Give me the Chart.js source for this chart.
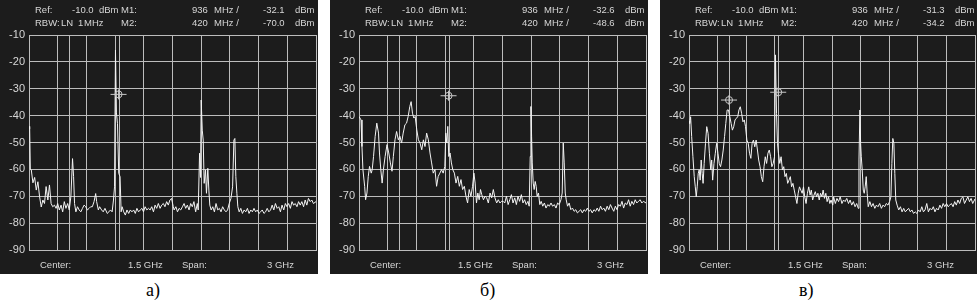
<!DOCTYPE html>
<html>
<head>
<meta charset="utf-8">
<script src="https://cdn.jsdelivr.net/npm/chart.js@4/dist/chart.umd.min.js"></script>
<style>
  body { margin: 0; background: #fff; width: 977px; height: 300px; position: relative; overflow: hidden; }
  .panel { position: absolute; top: 0; }
  .panel canvas { background: #1c1c1c; display: block; }
  .cap { position: absolute; top: 280px; font: 18px "Liberation Serif", serif; color: #000; }
</style>
</head>
<body>
<div class="panel" style="left:0px"><canvas id="c0" width="318" height="274"></canvas></div>
<div class="panel" style="left:330px"><canvas id="c1" width="318" height="274"></canvas></div>
<div class="panel" style="left:660px"><canvas id="c2" width="317" height="274"></canvas></div>
<div class="cap" id="l0" style="left:146px"></div>
<div class="cap" id="l1" style="left:480px"></div>
<div class="cap" id="l2" style="left:799px"></div>
<script>
// spectrum traces, [MHz, dBm]
var traceA = [
  [0,-44],[7,-45],[14,-60],[24,-60.2],[41,-65],[59,-63],[76,-67.7],[93,-64.6],[110,-70],[128,-74],
  [145,-71.4],[162,-72.7],[179,-66.4],[197,-71.4],[214,-65.8],[231,-72.7],[248,-73.9],[266,-73.3],[283,-74.5],[300,-72.7],
  [317,-75.1],[335,-73.3],[352,-75.8],[369,-72],[386,-74.5],[404,-72.7],[421,-75.1],[438,-70],[455,-56],[466,-62.7],
  [476,-72.7],[490,-75.8],[507,-73.9],[524,-75.1],[542,-75.8],[559,-74.5],[576,-73.3],[593,-73.9],[611,-75.1],[628,-74.5],
  [645,-73.9],[662,-73.9],[680,-72],[697,-69],[707,-72],[725,-75.1],[738,-73.9],[759,-75.1],[776,-75.8],[794,-74.5],
  [818,-76.4],[835,-75.8],[852,-75.1],[869,-75.8],[883,-71.4],[894,-66.5],[904,-15.6],[914,-39],[925,-43],[938,-61.5],
  [952,-62.7],[963,-75.8],[973,-73.9],[990,-75.8],[1007,-77],[1024,-75.1],[1042,-76.4],[1059,-75.1],[1076,-75.8],[1094,-75.1],
  [1111,-76.4],[1128,-74.5],[1145,-75.8],[1163,-75.1],[1180,-74.5],[1197,-75.8],[1214,-73.9],[1232,-75.1],[1249,-74.5],[1266,-75.1],
  [1283,-73.9],[1301,-75.8],[1318,-73.3],[1335,-74.5],[1352,-72.7],[1370,-74.5],[1387,-73.3],[1404,-72.7],[1421,-73.9],[1439,-72],
  [1456,-73.3],[1473,-71.4],[1490,-70.8],[1508,-73.9],[1517,-75.1],[1535,-73.9],[1552,-75.8],[1569,-74.5],[1586,-75.1],[1604,-73.9],
  [1621,-72.7],[1638,-74.5],[1655,-73.3],[1673,-75.1],[1690,-72.7],[1707,-73.9],[1724,-72],[1742,-75.8],[1759,-72.7],[1769,-75.1],
  [1783,-54],[1793,-63],[1800,-34.2],[1811,-45.4],[1821,-49.1],[1831,-65.2],[1845,-60.2],[1855,-68.9],[1869,-59.6],[1880,-67.7],
  [1890,-73.3],[1904,-75.1],[1921,-73.9],[1938,-75.8],[1955,-72.7],[1973,-75.1],[1990,-74.5],[2007,-75.8],[2024,-73.9],[2042,-75.1],
  [2059,-75.8],[2076,-75.1],[2093,-72.7],[2111,-70.8],[2128,-66.5],[2142,-49.1],[2152,-48.5],[2162,-62.7],[2173,-68.9],[2183,-73.9],
  [2197,-75.8],[2214,-74.5],[2231,-76.4],[2249,-75.1],[2266,-75.8],[2283,-74.5],[2300,-76.4],[2318,-75.1],[2335,-75.8],[2352,-74.5],
  [2369,-75.8],[2387,-75.1],[2404,-76.4],[2421,-75.8],[2438,-75.1],[2456,-76.4],[2473,-75.8],[2490,-74.5],[2507,-75.8],[2525,-75.1],
  [2542,-73.3],[2559,-75.1],[2576,-72.7],[2594,-74.5],[2611,-73.9],[2628,-75.8],[2645,-73.3],[2663,-75.1],[2680,-72.7],[2697,-73.9],
  [2714,-72.7],[2732,-74.5],[2749,-72],[2766,-73.3],[2783,-72.7],[2801,-73.9],[2818,-72],[2835,-73.3],[2852,-72],[2870,-73.9],
  [2887,-71.4],[2904,-73.3],[2921,-70.8],[2939,-72],[2956,-71.4],[2973,-72.7],[3000,-72]
];

var traceB = [
  [0,-40.3],[7,-40.3],[21,-41.6],[31,-51.5],[41,-60.1],[59,-66.3],[69,-71.3],[83,-68.8],[97,-62.6],[110,-58.9],
  [128,-61.4],[138,-60.1],[152,-55.2],[169,-47.7],[186,-42.8],[204,-46.5],[214,-53.9],[228,-60.1],[242,-65.1],[255,-60.1],
  [273,-55.2],[293,-50.8],[311,-53.9],[328,-57.6],[345,-60.7],[359,-55.2],[376,-49],[393,-45.9],[411,-49],[428,-47.7],
  [445,-50.2],[462,-46.5],[480,-43.4],[497,-42.8],[514,-40.3],[531,-36.6],[545,-34.8],[559,-39.1],[573,-40.9],[587,-40.3],
  [604,-45.3],[621,-49],[638,-50.2],[656,-52.7],[673,-49],[690,-51.5],[707,-46.5],[725,-49],[742,-53.9],[759,-57.6],
  [776,-61.4],[794,-60.1],[811,-66.3],[828,-62.6],[845,-61.4],[863,-60.1],[880,-61.4],[897,-58.9],[907,-46.5],[918,-50.2],
  [928,-44],[938,-55.2],[952,-53.9],[966,-57.6],[980,-60.1],[997,-61.4],[1014,-65.1],[1032,-62.6],[1049,-66.3],[1066,-63.8],
  [1083,-67.5],[1101,-66.3],[1118,-70],[1135,-72.5],[1152,-67.5],[1170,-70],[1187,-66.3],[1201,-61.4],[1214,-65.1],[1228,-72.5],
  [1242,-68.8],[1256,-71.3],[1270,-67.5],[1283,-69.4],[1301,-71.3],[1318,-70],[1335,-70.6],[1352,-72.5],[1370,-68.8],[1387,-70.6],
  [1404,-67.5],[1421,-70.6],[1439,-72.5],[1456,-71.3],[1473,-72.5],[1490,-71.9],[1507,-71.9],[1524,-72.5],[1541,-70],[1559,-73.1],
  [1576,-71.3],[1593,-69.4],[1610,-72.5],[1628,-70.6],[1645,-73.1],[1662,-70],[1679,-71.9],[1697,-69.4],[1714,-72.5],[1731,-71.3],
  [1748,-73.1],[1766,-71.9],[1779,-73.7],[1790,-55.2],[1797,-36.6],[1804,-47.7],[1811,-57.6],[1821,-65.1],[1831,-67.5],[1842,-64.5],
  [1852,-66.3],[1862,-70],[1876,-68.8],[1890,-73.1],[1904,-71.9],[1921,-73.7],[1938,-72.5],[1955,-74.4],[1973,-73.1],[1990,-73.7],
  [2007,-72.5],[2024,-73.7],[2042,-73.1],[2059,-74.4],[2076,-72.5],[2093,-73.1],[2111,-71.3],[2124,-68.8],[2135,-50.2],[2145,-57.6],
  [2156,-68.8],[2166,-71.3],[2180,-73.7],[2197,-72.5],[2214,-75],[2231,-74.4],[2249,-75.6],[2266,-75],[2283,-76.2],[2300,-75.6],
  [2318,-75],[2335,-76.2],[2352,-75],[2369,-75.6],[2387,-74.4],[2404,-75.6],[2421,-75],[2438,-76.2],[2456,-75],[2473,-75.6],
  [2490,-74.4],[2507,-75.6],[2525,-73.7],[2542,-75],[2559,-74.4],[2576,-75.6],[2594,-73.7],[2611,-75],[2628,-73.1],[2645,-74.4],
  [2663,-75.6],[2680,-73.7],[2697,-75],[2714,-73.1],[2732,-73.7],[2749,-71.9],[2766,-74.4],[2783,-72.5],[2801,-73.1],[2818,-71.3],
  [2835,-73.7],[2852,-71.9],[2870,-73.1],[2887,-71.3],[2904,-72.5],[2921,-71.9],[2939,-71.3],[2956,-72.5],[2973,-71.9],[3000,-72.5]
];

var traceC = [
  [0,-42],[7,-42.9],[17,-40.4],[28,-47.8],[41,-55.3],[55,-62.7],[66,-66.5],[76,-70.2],[86,-66.5],[97,-61.5],
  [107,-60.2],[117,-64],[128,-56.5],[138,-61.5],[148,-65.2],[159,-57.8],[173,-50.3],[186,-44.1],[200,-46.6],[214,-54],
  [228,-60.2],[238,-56.5],[248,-64],[262,-57.8],[276,-54],[290,-50.3],[304,-54],[317,-57.8],[331,-59],[345,-56.5],
  [359,-52.8],[373,-47.8],[386,-42.9],[400,-37.9],[414,-37.9],[428,-40.4],[442,-42.9],[455,-45.4],[469,-44.1],[483,-41.6],
  [497,-41],[511,-40.4],[524,-37.9],[538,-36.7],[552,-39.2],[566,-42.3],[580,-41.6],[593,-44.1],[607,-49.1],[621,-50.3],
  [635,-54],[649,-55.9],[662,-50.3],[676,-49.1],[690,-51.6],[704,-49.1],[718,-52.8],[731,-56.5],[745,-59],[759,-62.7],
  [773,-64.6],[787,-59],[800,-55.3],[814,-57.8],[828,-54],[842,-52.8],[856,-55.3],[869,-59],[883,-57.8],[897,-55.3],
  [907,-17.4],[918,-39.2],[928,-50.3],[938,-54],[952,-57.8],[966,-55.3],[980,-60.2],[994,-59],[1007,-62.7],[1021,-61.5],
  [1035,-65.2],[1049,-64],[1063,-62.7],[1076,-66.5],[1090,-65.2],[1104,-67.7],[1118,-70.2],[1132,-72.7],[1145,-68.9],[1159,-66.5],
  [1173,-67.7],[1187,-68.9],[1201,-66.5],[1214,-70.2],[1228,-72.7],[1242,-68.9],[1256,-66.5],[1270,-69.6],[1283,-67.7],[1297,-71.4],
  [1311,-69.6],[1325,-68.3],[1338,-70.2],[1352,-68.9],[1366,-71.4],[1380,-68.9],[1394,-70.2],[1407,-67.7],[1421,-70.8],[1435,-68.9],
  [1449,-72],[1463,-70.2],[1477,-72.7],[1490,-71.4],[1508,-73.3],[1517,-70.2],[1535,-72.7],[1552,-70.8],[1569,-72],[1586,-70.2],
  [1604,-72.7],[1621,-71.4],[1638,-72],[1655,-70.8],[1673,-72.7],[1690,-71.4],[1707,-73.3],[1724,-72],[1742,-73.9],[1759,-72.7],
  [1776,-74.5],[1783,-56.5],[1793,-37.9],[1800,-50.3],[1807,-55.3],[1817,-60.2],[1828,-67.7],[1838,-68.9],[1848,-66.5],[1859,-62.7],
  [1869,-68.9],[1880,-73.9],[1897,-72],[1914,-73.9],[1931,-72.7],[1949,-74.5],[1966,-73.3],[1983,-73.9],[2000,-72.7],[2018,-74.5],
  [2035,-73.3],[2052,-73.9],[2069,-72.7],[2087,-73.3],[2104,-72],[2118,-70.2],[2128,-57.8],[2138,-48.5],[2149,-50.3],[2159,-61.5],
  [2169,-71.4],[2183,-73.3],[2200,-75.1],[2218,-73.9],[2235,-75.8],[2252,-74.5],[2269,-75.8],[2287,-75.1],[2304,-74.5],[2321,-75.8],
  [2338,-75.1],[2356,-76.4],[2373,-75.8],[2390,-76.4],[2407,-75.1],[2425,-75.8],[2442,-73.9],[2459,-75.8],[2476,-75.1],[2494,-72.7],
  [2511,-75.8],[2528,-74.5],[2545,-75.1],[2563,-73.9],[2580,-75.8],[2597,-74.5],[2614,-75.1],[2632,-73.3],[2649,-74.5],[2666,-72.7],
  [2683,-73.9],[2701,-72.7],[2718,-73.9],[2735,-73.3],[2752,-72.7],[2770,-73.9],[2787,-72],[2804,-73.3],[2821,-71.4],[2839,-72.7],
  [2856,-70.8],[2873,-70.2],[2890,-72.7],[2908,-71.4],[2925,-70.2],[2942,-72],[2959,-70.8],[2976,-72.7],[3000,-71]
];

var levelTicks = [-10, -20, -30, -40, -50, -60, -70, -80, -90];
var freqGrid = [0, 300, 600, 900, 1200, 1500, 1800, 2100, 2400, 2700, 3000];
var m1Freq = 936;
var m2Freq = 420;
var m1Level = [-32.1, -32.6, -31.3];
var m2Level = [-70.0, -48.6, -34.2];
var m2Shown = [false, false, true];
var panelNames = ['а)', 'б)', 'в)'];

var gridColor = '#bdbdbd';
var textColor = '#d6d6d6';

var analyzerDecor = {
    id: 'analyzerDecor',
    beforeDatasetsDraw: function (chart, args, opts) {
        var ctx = chart.ctx, a = chart.chartArea, xs = chart.scales.x;
        ctx.save();
        ctx.strokeStyle = gridColor;
        ctx.lineWidth = 1;
        [m2Freq, m1Freq].forEach(function (f) {
            var px = Math.round(xs.getPixelForValue(f)) + 0.5;
            ctx.beginPath();
            ctx.moveTo(px, a.top);
            ctx.lineTo(px, a.bottom);
            ctx.stroke();
        });
        ctx.restore();
    },
    afterDatasetsDraw: function (chart, args, opts) {
        var ctx = chart.ctx, xs = chart.scales.x, ys = chart.scales.y;
        var marks = [[m1Freq, opts.m1]];
        if (opts.showM2) marks.push([m2Freq, opts.m2]);
        ctx.save();
        ctx.strokeStyle = '#c8c8c8';
        ctx.lineWidth = 1;
        marks.forEach(function (m) {
            var px = xs.getPixelForValue(m[0]), py = ys.getPixelForValue(m[1]);
            ctx.beginPath();
            ctx.arc(px, py, 3.5, 0, Math.PI * 2);
            ctx.moveTo(px - 8, py);
            ctx.lineTo(px + 8, py);
            ctx.moveTo(px, py - 5);
            ctx.lineTo(px, py + 5);
            ctx.stroke();
        });
        ctx.restore();
    },
    afterDraw: function (chart, args, opts) {
        var ctx = chart.ctx, L = chart.chartArea.left;
        ctx.save();
        ctx.fillStyle = textColor;
        ctx.font = '9.5px "Liberation Sans"';
        ctx.textBaseline = 'middle';
        var rows = [
            [10, [['Ref:', 6], ['-10.0', 43], ['dBm', 70], ['M1:', 92], [String(m1Freq), 163], ['MHz /', 185], [opts.m1.toFixed(1), 234], ['dBm', 266]]],
            [23, [['RBW:', 6], ['LN', 32], ['1', 49], ['MHz', 55], ['M2:', 92], [String(m2Freq), 163], ['MHz /', 185], [opts.m2.toFixed(1), 234], ['dBm', 266]]],
            [265, [['Center:', 11], ['1.5 GHz', 99], ['Span:', 153], ['3 GHz', 238]]]
        ];
        rows.forEach(function (r) {
            r[1].forEach(function (t) {
                ctx.fillText(t[0], L + t[1], r[0]);
            });
        });
        ctx.restore();
    }
};

function makePanel(idx, trace) {
    var cv = document.getElementById('c' + idx);
    var plotLeft = 29;
    var plotRight = cv.width - 2;
    document.getElementById('l' + idx).textContent = panelNames[idx];

    return new Chart(cv.getContext('2d'), {
        type: 'line',
        data: {
            datasets: [{
                data: trace.map(function (p) { return { x: p[0], y: p[1] }; }),
                borderColor: '#f4f4f4',
                borderWidth: 1,
                pointRadius: 0,
                tension: 0
            }]
        },
        options: {
            responsive: false,
            animation: false,
            devicePixelRatio: 1,
            layout: { padding: { top: 35, right: cv.width - plotRight, bottom: 24, left: 0 } },
            scales: {
                x: {
                    type: 'linear',
                    min: 0,
                    max: 3000,
                    afterBuildTicks: function (s) { s.ticks = freqGrid.map(function (v) { return { value: v }; }); },
                    afterFit: function (s) { s.height = 0; },
                    ticks: { display: false },
                    grid: { color: gridColor, lineWidth: 1, drawTicks: false },
                    border: { display: true, color: gridColor }
                },
                y: {
                    min: -90,
                    max: -10,
                    afterBuildTicks: function (s) { s.ticks = levelTicks.map(function (v) { return { value: v }; }); },
                    afterFit: function (s) { s.width = plotLeft; },
                    ticks: {
                        color: textColor,
                        padding: 4,
                        font: { family: 'Liberation Sans', size: 11 },
                        callback: function (v) { return String(v); }
                    },
                    grid: { color: gridColor, lineWidth: 1, drawTicks: false },
                    border: { display: true, color: gridColor }
                }
            },
            plugins: {
                legend: { display: false },
                tooltip: { enabled: false },
                analyzerDecor: { m1: m1Level[idx], m2: m2Level[idx], showM2: m2Shown[idx] }
            }
        },
        plugins: [analyzerDecor]
    });
}

makePanel(0, traceA);
makePanel(1, traceB);
makePanel(2, traceC);
</script>
</body>
</html>
